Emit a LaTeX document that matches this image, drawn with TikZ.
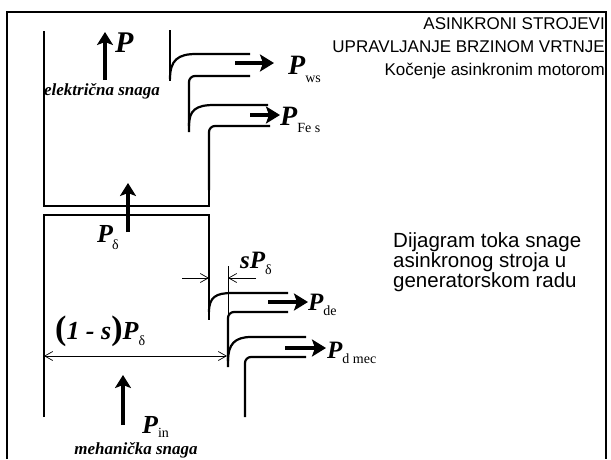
\documentclass[tikz,border=0pt]{standalone}
\usepackage{fontspec}
\setmainfont{Liberation Serif}
\newfontfamily\headfont{Liberation Sans}
\usetikzlibrary{arrows.meta}

% P with an upright subscript: size of P, drop of subscript, subscript
\newcommand{\plab}[3]{{\fontsize{#1}{#1}\selectfont\bfseries\itshape P}%
  \raisebox{-#2}{\fontsize{14}{14}\selectfont #3}}

\tikzset{
  wall/.style={line width=2.2pt},
  flowh/.style={line width=4.5pt,-{Stealth[length=14pt,width=17pt,inset=3pt]}},
  flowv/.style={line width=4pt,-{Stealth[length=13pt,width=16pt,inset=3pt]}},
  dimline/.style={line width=0.7pt},
  dimtip/.style={line width=0.7pt,-{Straight Barb[length=8pt,width=9pt]}},
  lbl/.style={inner sep=0pt,anchor=base west},
  snaga/.style={inner sep=0pt,anchor=base,font=\fontsize{17}{17}\selectfont\bfseries\itshape}
}

\begin{document}
\begin{tikzpicture}[x=1pt,y=-1pt]
\useasboundingbox (0,0) rectangle (611,459);

% frame
\draw[line width=1.8pt] (7,459) -- (7,12) -- (606,12) -- (606,459);

% titles
\node[inner sep=0pt,anchor=north east,align=right,
  font=\headfont\fontsize{17}{23}\selectfont] (head) at (605,17)
  {ASINKRONI STROJEVI\\UPRAVLJANJE BRZINOM VRTNJE\\Ko\v{c}enje asinkronim motorom};
\node[inner sep=0pt,anchor=north west,align=left,
  font=\headfont\fontsize{20.5}{18}\selectfont] (desc) at (393,232)
  {Dijagram toka snage\\asinkronog stroja u\\generatorskom radu};

% upper box (stator)
\draw[wall] (44,31) |- (209,206) -- (209,180);
\draw[wall,rounded corners=6] (209,190) |- (270,126);
\draw[wall] (170,30) -- (170,81);
\draw[wall] (170,79) .. controls (170,60) and (178,54) .. (196,54) -- (250,54);
\draw[wall,rounded corners=6] (189,132) |- (250,76);
\draw[wall] (189,126) .. controls (189,110) and (196,105) .. (214,105) -- (268,105);

% lower box (rotor)
\draw[wall] (44,417) |- (209,215) -- (209,320);
\draw[wall] (209,312) .. controls (209,297) and (216,293) .. (232,293) -- (288,293);
\draw[wall,rounded corners=6] (228,367) |- (288,312);
\draw[wall] (228,361) .. controls (228,344) and (235,337) .. (251,337) -- (306,337);
\draw[wall,rounded corners=6] (245,417) |- (306,357);

% flows
\draw[flowv] (105,80) -- (105,32);
\draw[flowv] (128,232) -- (128,183);
\draw[flowv] (123,425) -- (123,375);
\draw[flowh] (235,63) -- (274,63);
\draw[flowh] (250,115) -- (280,115);
\draw[flowh] (268,302) -- (308,302);
\draw[flowh] (285,348) -- (326,348);

% dimensions
\draw[dimline] (228,266) -- (228,314);
\draw[dimtip] (182,278) -- (209,278);
\draw[dimtip] (256,278) -- (228,278);
\draw[dimline,{Straight Barb[length=8pt,width=9pt]}-{Straight Barb[length=8pt,width=9pt]}] (44,356) -- (227,356);

% labels
\node[lbl] (p) at (115,52) {\plab{30}{0pt}{}};
\node[snaga] (el) at (102,95) {elektri\v{c}na snaga};
\node[lbl] (pws) at (288,74) {\plab{28}{8pt}{ws}};
\node[lbl] (pfes) at (280,125) {\plab{28}{7pt}{Fe s}};
\node[lbl] (pdelta) at (97,242) {\plab{26}{7pt}{\kern-1pt δ}};
\node[lbl] (spdelta) at (240,268) {{\fontsize{25}{25}\selectfont\bfseries\itshape s}\plab{25}{6pt}{δ}};
\node[lbl] (slip) at (55,339) {{\fontsize{34}{34}\selectfont\bfseries (}{\fontsize{26}{26}\selectfont\bfseries\itshape 1 - s}{\fontsize{34}{34}\selectfont\bfseries )}\plab{26}{6pt}{δ}};
\node[lbl] (pde) at (308,310) {\plab{25}{5pt}{de}};
\node[lbl] (pdmec) at (327,358) {\plab{25}{5pt}{d mec}};
\node[lbl] (pin) at (142,433) {\plab{26}{4pt}{in}};
\node[snaga] (meh) at (136,454) {mehani\v{c}ka snaga};
\end{tikzpicture}
\end{document}
